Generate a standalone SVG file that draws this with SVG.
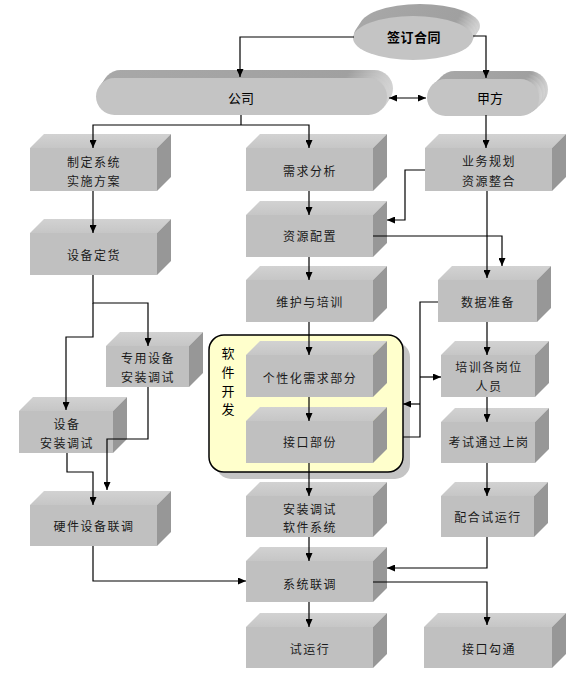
<svg xmlns="http://www.w3.org/2000/svg" width="583" height="688" viewBox="0 0 583 688">
<defs>
<marker id="ah" viewBox="0 0 8 7" refX="8" refY="3.5" markerWidth="8" markerHeight="7" markerUnits="userSpaceOnUse" orient="auto-start-reverse"><path d="M0,0 L8,3.5 L0,7 z" fill="#000"/></marker>
<linearGradient id="ext" x1="0" y1="0" x2="1" y2="0"><stop offset="0" stop-color="#a8a8a8"/><stop offset="0.85" stop-color="#a0a0a0"/><stop offset="1" stop-color="#d4d4d4"/></linearGradient>
<linearGradient id="topg" x1="0" y1="0" x2="0" y2="1"><stop offset="0" stop-color="#d2d2d2"/><stop offset="1" stop-color="#c6c6c6"/></linearGradient>
</defs>
<style>
.f{fill:#c0c0c0}
.t{fill:url(#topg)}
.r{fill:#979797}
.lbl{font-family:"Noto Sans CJK SC","Noto Sans",sans-serif;font-size:12px;letter-spacing:1.5px;fill:#1a1a1a;text-anchor:middle}
.cap{font-family:"Noto Sans CJK SC","Noto Sans",sans-serif;font-size:13px;fill:#000;text-anchor:middle}
.c{fill:none;stroke:#000;stroke-width:1.2}
.a{marker-end:url(#ah)}
.ext{fill:url(#ext)}
.capf{fill:#c4c4c4}
</style>
<rect width="583" height="688" fill="#fff"/>

<g id="software-group">
<rect x="216" y="342" width="194" height="137" rx="15" fill="#c4c4c4"/>
<rect x="209" y="335" width="194" height="137" rx="15" fill="#ffffcc" stroke="#000" stroke-width="1.5"/>
<text class="cap" font-size="14" x="228" y="358">软</text>
<text class="cap" font-size="14" x="228" y="377">件</text>
<text class="cap" font-size="14" x="228" y="396">开</text>
<text class="cap" font-size="14" x="228" y="414">发</text>
</g>

<g id="sign">
<ellipse cx="420" cy="26" rx="60" ry="22" class="ext"/>
<ellipse cx="418" cy="29" rx="60" ry="22" class="ext"/>
<ellipse cx="416" cy="32" rx="60" ry="22" class="ext"/>
<ellipse cx="414" cy="35" rx="60" ry="22" class="ext"/>
<ellipse cx="413" cy="38" rx="60" ry="22" class="capf"/>
<text class="cap" font-size="14" font-weight="bold" letter-spacing="0.5" x="414" y="42">签订合同</text>
</g>

<g id="company">
<rect x="102" y="70" width="291" height="37" rx="18.5" class="ext"/>
<rect x="100" y="73" width="291" height="37" rx="18.5" class="ext"/>
<rect x="98" y="76" width="291" height="37" rx="18.5" class="ext"/>
<rect x="96" y="78" width="291" height="37" rx="18.5" class="capf"/>
<text class="cap" x="241" y="103">公司</text>
</g>

<g id="partyA">
<rect x="436" y="71" width="112" height="37" rx="18.5" class="ext"/>
<rect x="433" y="74" width="112" height="37" rx="18.5" class="ext"/>
<rect x="430" y="77" width="112" height="37" rx="18.5" class="ext"/>
<rect x="427" y="79" width="112" height="37" rx="18.5" class="capf"/>
<text class="cap" x="490" y="103">甲方</text>
</g>

<g id="plan">
<polygon class="t" points="30,148 44,134 171,134 157,148"/><polygon class="r" points="157,148 171,134 171,177 157,191"/><rect class="f" x="30" y="148" width="127" height="43"/>
<text class="lbl" x="94" y="167">制定系统</text><text class="lbl" x="94" y="186">实施方案</text>
</g>
<g id="order">
<polygon class="t" points="30,233 44,219 171,219 157,233"/><polygon class="r" points="157,233 171,219 171,261 157,275"/><rect class="f" x="30" y="233" width="127" height="42"/>
<text class="lbl" x="94" y="260">设备定货</text>
</g>
<g id="req">
<polygon class="t" points="246,148 260,134 387,134 373,148"/><polygon class="r" points="373,148 387,134 387,177 373,191"/><rect class="f" x="246" y="148" width="127" height="43"/>
<text class="lbl" x="310" y="176">需求分析</text>
</g>
<g id="res">
<polygon class="t" points="246,215 260,201 387,201 373,215"/><polygon class="r" points="373,215 387,201 387,243 373,257"/><rect class="f" x="246" y="215" width="127" height="42"/>
<text class="lbl" x="310" y="241">资源配置</text>
</g>
<g id="maint">
<polygon class="t" points="246,280 260,266 387,266 373,280"/><polygon class="r" points="373,280 387,266 387,308 373,322"/><rect class="f" x="246" y="280" width="127" height="42"/>
<text class="lbl" x="310" y="307">维护与培训</text>
</g>
<g id="bizplan">
<polygon class="t" points="425,148 439,134 566,134 552,148"/><polygon class="r" points="552,148 566,134 566,177 552,191"/><rect class="f" x="425" y="148" width="127" height="43"/>
<text class="lbl" x="489" y="166">业务规划</text><text class="lbl" x="489" y="186">资源整合</text>
</g>
<g id="data">
<polygon class="t" points="438,280 452,266 551,266 537,280"/><polygon class="r" points="537,280 551,266 551,308 537,322"/><rect class="f" x="438" y="280" width="99" height="42"/>
<text class="lbl" x="488" y="307">数据准备</text>
</g>
<g id="special">
<polygon class="t" points="106,346 120,332 203,332 189,346"/><polygon class="r" points="189,346 203,332 203,373 189,387"/><rect class="f" x="106" y="346" width="83" height="41"/>
<text class="lbl" x="148" y="363">专用设备</text><text class="lbl" x="148" y="382">安装调试</text>
</g>
<g id="install">
<polygon class="t" points="19,411 33,397 127,397 113,411"/><polygon class="r" points="113,411 127,397 127,439 113,453"/><rect class="f" x="19" y="411" width="94" height="42"/>
<text class="lbl" x="67" y="429">设备</text><text class="lbl" x="67" y="448">安装调试</text>
</g>
<g id="custom">
<polygon class="t" points="246,355 260,341 387,341 373,355"/><polygon class="r" points="373,355 387,341 387,383 373,397"/><rect class="f" x="246" y="355" width="127" height="42"/>
<text class="lbl" x="310" y="383">个性化需求部分</text>
</g>
<g id="iface">
<polygon class="t" points="246,421 260,407 387,407 373,421"/><polygon class="r" points="373,421 387,407 387,449 373,463"/><rect class="f" x="246" y="421" width="127" height="42"/>
<text class="lbl" x="310" y="447">接口部份</text>
</g>
<g id="train">
<polygon class="t" points="441,355 455,341 549,341 535,355"/><polygon class="r" points="535,355 549,341 549,383 535,397"/><rect class="f" x="441" y="355" width="94" height="42"/>
<text class="lbl" x="489" y="372">培训各岗位</text><text class="lbl" x="489" y="391">人员</text>
</g>
<g id="exam">
<polygon class="t" points="441,422 455,408 549,408 535,422"/><polygon class="r" points="535,422 549,408 549,449 535,463"/><rect class="f" x="441" y="422" width="94" height="41"/>
<text class="lbl" x="489" y="447">考试通过上岗</text>
</g>
<g id="coop">
<polygon class="t" points="441,496 455,482 548,482 534,496"/><polygon class="r" points="534,496 548,482 548,523 534,537"/><rect class="f" x="441" y="496" width="93" height="41"/>
<text class="lbl" x="488" y="522">配合试运行</text>
</g>
<g id="hwtest">
<polygon class="t" points="30,505 44,491 171,491 157,505"/><polygon class="r" points="157,505 171,491 171,532 157,546"/><rect class="f" x="30" y="505" width="127" height="41"/>
<text class="lbl" x="94" y="531">硬件设备联调</text>
</g>
<g id="swinstall">
<polygon class="t" points="246,496 260,482 387,482 373,496"/><polygon class="r" points="373,496 387,482 387,523 373,537"/><rect class="f" x="246" y="496" width="127" height="41"/>
<text class="lbl" x="310" y="514">安装调试</text><text class="lbl" x="310" y="532">软件系统</text>
</g>
<g id="systest">
<polygon class="t" points="246,561 260,547 387,547 373,561"/><polygon class="r" points="373,561 387,547 387,588 373,602"/><rect class="f" x="246" y="561" width="127" height="41"/>
<text class="lbl" x="310" y="589">系统联调</text>
</g>
<g id="trial">
<polygon class="t" points="246,627 260,613 387,613 373,627"/><polygon class="r" points="373,627 387,613 387,654 373,668"/><rect class="f" x="246" y="627" width="127" height="41"/>
<text class="lbl" x="310" y="654">试运行</text>
</g>
<g id="ifacecomm">
<polygon class="t" points="424,627 438,613 566,613 552,627"/><polygon class="r" points="552,627 566,613 566,654 552,668"/><rect class="f" x="424" y="627" width="128" height="41"/>
<text class="lbl" x="489" y="654">接口勾通</text>
</g>

<g id="connectors">
<path class="c a" d="M354,37 H240 V77"/>
<path class="c a" d="M473,36 H486 V78"/>
<path class="c a" d="M389,98 H426" marker-start="url(#ah)"/>
<path class="c" d="M241,115 V125"/>
<path class="c a" d="M241,125 H93 V148"/>
<path class="c a" d="M241,125 H309 V148"/>
<path class="c a" d="M93,191 V233"/>
<path class="c a" d="M93,275 V303 H148 V346"/>
<path class="c a" d="M93,303 V337 H66 V410"/>
<path class="c a" d="M148,387 V439 H107 V490"/>
<path class="c a" d="M67,453 V472 H93 V505"/>
<path class="c a" d="M93,546 V581 H246"/>
<path class="c a" d="M309,191 V215"/>
<path class="c a" d="M309,257 V280"/>
<path class="c a" d="M309,322 V355"/>
<path class="c a" d="M309,397 V421"/>
<path class="c a" d="M309,463 V496"/>
<path class="c a" d="M309,537 V561"/>
<path class="c a" d="M309,602 V627"/>
<path class="c a" d="M486,115 V148"/>
<path class="c a" d="M425,170 H405 V220 H387"/>
<path class="c a" d="M487,191 V278"/>
<path class="c a" d="M373,236 H502 V266"/>
<path class="c" d="M438,302 H420 V437 H403"/>
<path class="c a" d="M420,377 H441"/>
<path class="c a" d="M420,404 H403"/>
<path class="c a" d="M487,322 V355"/>
<path class="c a" d="M487,397 V422"/>
<path class="c a" d="M487,463 V496"/>
<path class="c a" d="M487,537 V568 H387"/>
<path class="c a" d="M373,582 H487 V625"/>
</g>
</svg>
